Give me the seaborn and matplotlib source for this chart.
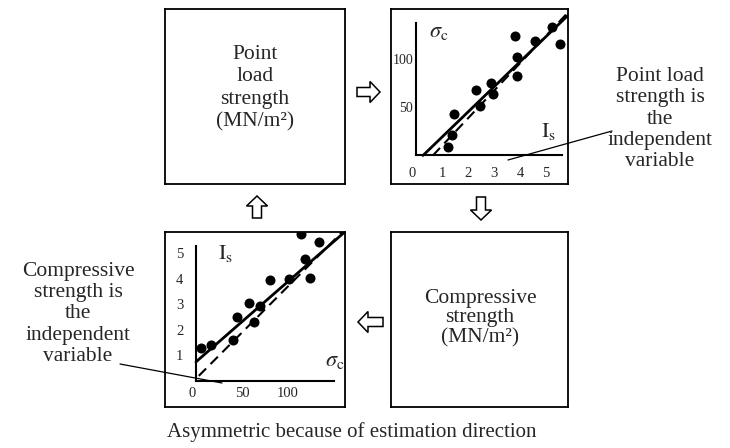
import matplotlib
matplotlib.use('Agg')
import matplotlib.pyplot as plt
import seaborn as sns
from matplotlib.patches import FancyArrow

# 값은 그림에서 읽음
# 위 오른쪽: 점하중 강도(I_s) -> 압축 강도(sigma_c)
is_top = [1.23, 1.38, 1.46, 2.30, 2.46, 2.88, 2.96, 3.80, 3.87, 3.87, 4.58, 5.23, 5.54]
sc_top = [9, 21, 43, 68, 52, 76, 64, 124, 103, 83, 119, 134, 116]
solid_top_x = [0.27, 5.85]
solid_top_y = [0, 146]
dash_top_x = [0.65, 5.85]
dash_top_y = [0, 149]

# 아래 왼쪽: 압축 강도(sigma_c) -> 점하중 강도(I_s)
sc_bot = [5, 16, 40, 45, 58, 63, 70, 80, 101, 114, 118, 124, 134]
is_bot = [1.29, 1.40, 1.60, 2.51, 3.07, 2.31, 2.94, 3.95, 3.99, 5.78, 4.80, 4.04, 5.45]
solid_bot_x = [0, 162]
solid_bot_y = [0.75, 5.85]
dash_bot_x = [3, 162]
dash_bot_y = [0.2, 5.95]

box_text_tl = 'Point\nload\nstrength\n(MN/m²)'
box_text_br = 'Compressive\nstrength\n(MN/m²)'
note_right = 'Point load\nstrength is\nthe\nindependent\nvariable'
note_left = 'Compressive\nstrength is\nthe\nindependent\nvariable'
caption = 'Asymmetric because of estimation direction'

sns.set_style('white')
plt.rcParams['font.family'] = ['Liberation Serif', 'DejaVu Serif']
plt.rcParams['mathtext.fontset'] = 'stix'

W, H = 730, 448
fig = plt.figure(figsize=(W / 100, H / 100), dpi=100)


def rect(x0, y0, x1, y1):
    # 픽셀 -> figure 비율
    return [x0 / W, 1 - y1 / H, (x1 - x0) / W, (y1 - y0) / H]


boxes = {'tl': (165, 9, 345, 184), 'tr': (391, 9, 568, 184),
         'bl': (165, 232, 345, 407), 'br': (391, 232, 568, 407)}

for key, b in boxes.items():
    bx = fig.add_axes(rect(*b))
    bx.set_xticks([])
    bx.set_yticks([])
    for s in bx.spines.values():
        s.set_color('black')
        s.set_linewidth(1.3)
    bx.patch.set_alpha(0)


def axis_style(ax, ytop, xright):
    ax.patch.set_alpha(0)
    ax.spines['left'].set_position(('data', 0))
    ax.spines['bottom'].set_position(('data', 0))
    ax.spines['left'].set_bounds(0, ytop)
    ax.spines['bottom'].set_bounds(0, xright)
    for s in ['top', 'right']:
        ax.spines[s].set_visible(False)
    for s in ['left', 'bottom']:
        ax.spines[s].set_linewidth(1.5)
        ax.spines[s].set_color('black')
    ax.set_xlabel('')
    ax.set_ylabel('')


# 위 오른쪽 산점도
ax1 = fig.add_axes(rect(*boxes['tr']))
sns.scatterplot(x=is_top, y=sc_top, ax=ax1, color='black', s=52, linewidth=0, legend=False)
sns.lineplot(x=solid_top_x, y=solid_top_y, ax=ax1, color='black', lw=2)
ax1.plot(dash_top_x, dash_top_y, color='black', lw=1.5, dashes=(5, 3))
ax1.set_xlim(-0.96, 5.85)
ax1.set_ylim(-29.7, 152.6)
axis_style(ax1, 138, 5.6)
ax1.set_xticks([0, 1, 2, 3, 4, 5])
ax1.set_yticks([50, 100])
ax1.tick_params(axis='x', direction='in', length=11, width=1, pad=8, labelsize=10.5)
ax1.tick_params(axis='y', direction='in', length=11, width=1, pad=2, labelsize=10)
ax1.get_xticklabels()[0].set_ha('right')
ax1.text(0.5, 128, r'$\sigma_\mathrm{c}$', fontsize=16, ha='left', va='center')
ax1.text(4.8, 25, r'$\mathrm{I_s}$', fontsize=16, ha='left', va='center')

# 아래 왼쪽 산점도
ax2 = fig.add_axes(rect(*boxes['bl']))
sns.scatterplot(x=sc_bot, y=is_bot, ax=ax2, color='black', s=52, linewidth=0, legend=False)
sns.lineplot(x=solid_bot_x, y=solid_bot_y, ax=ax2, color='black', lw=2)
ax2.plot(dash_bot_x, dash_bot_y, color='black', lw=1.5, dashes=(5, 3))
ax2.set_xlim(-33.7, 162)
ax2.set_ylim(-1.02, 5.84)
axis_style(ax2, 5.3, 150)
ax2.set_xticks([0, 50, 100])
ax2.set_yticks([1, 2, 3, 4, 5])
ax2.tick_params(axis='x', direction='in', length=9, width=1, pad=4, labelsize=10.5)
ax2.tick_params(axis='y', direction='in', length=9, width=1, pad=9, labelsize=10.5)
ax2.get_xticklabels()[0].set_ha('right')
ax2.text(24, 5.0, r'$\mathrm{I_s}$', fontsize=16, ha='left', va='center')
ax2.text(140, 0.75, r'$\sigma_\mathrm{c}$', fontsize=16, ha='left', va='center')

# 글자, 화살표, 지시선 (픽셀 좌표)
ov = fig.add_axes([0, 0, 1, 1])
ov.set_xlim(0, W)
ov.set_ylim(H, 0)
ov.axis('off')
ov.patch.set_alpha(0)

ov.text(255, 88, box_text_tl, ha='center', va='center', fontsize=15.5, linespacing=1.25)
ov.text(480, 318, box_text_br, ha='center', va='center', fontsize=15.5, linespacing=1.05)
ov.text(660, 119, note_right, ha='center', va='center', fontsize=15.5, linespacing=1.15)
ov.text(78, 314, note_left, ha='center', va='center', fontsize=15.5, linespacing=1.15)
ov.text(352, 432, caption, ha='center', va='center', fontsize=15)

ov.plot([612, 508], [131, 160], color='black', lw=0.9)
ov.plot([120, 222], [364, 383], color='black', lw=0.9)

arrow_kw = dict(width=9, head_width=21, head_length=10, length_includes_head=True,
                facecolor='white', edgecolor='black', lw=1.1)
ov.add_patch(FancyArrow(357, 92, 23, 0, **arrow_kw))
ov.add_patch(FancyArrow(481, 197, 0, 23, **arrow_kw))
ov.add_patch(FancyArrow(383, 322, -25, 0, **arrow_kw))
ov.add_patch(FancyArrow(257, 218, 0, -22, **arrow_kw))

fig.savefig('out.png', dpi=100)
